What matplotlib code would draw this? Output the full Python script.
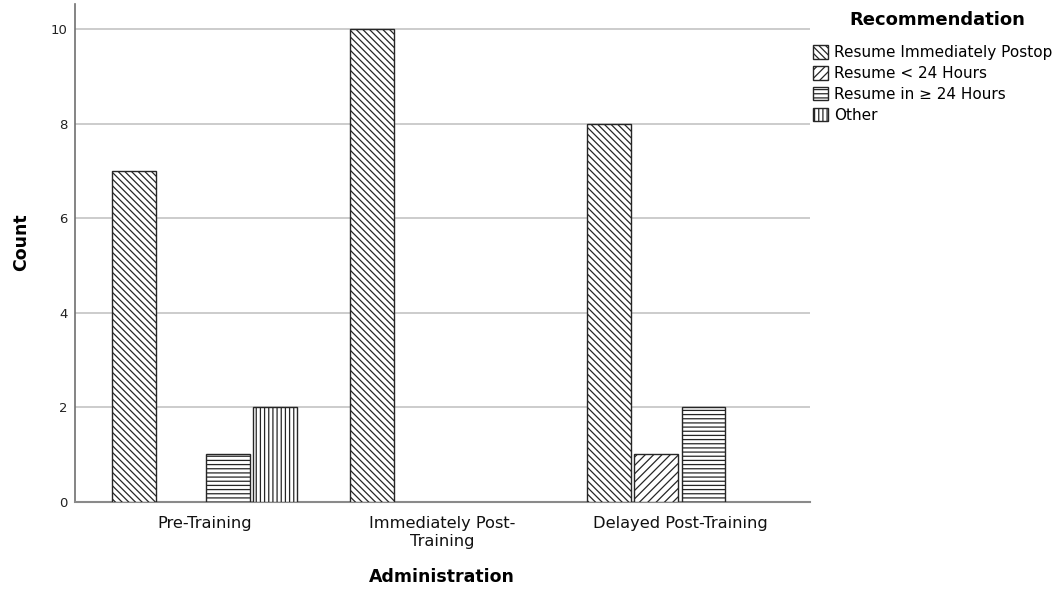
import numpy as np
import matplotlib
matplotlib.use("Agg")
import matplotlib.pyplot as plt
from matplotlib.patches import Patch

# data
administrations = ["Pre-Training", "Immediately Post-\nTraining", "Delayed Post-Training"]
recommendations = ["Resume Immediately Postop", "Resume < 24 Hours",
                   "Resume in \u2265 24 Hours", "Other"]
resume_immediately = [7, 10, 8]
resume_lt24 = [0, 0, 1]
resume_ge24 = [1, 0, 2]
other = [2, 0, 0]

counts = [resume_immediately, resume_lt24, resume_ge24, other]
hatches = ["\\\\\\\\\\", "////", "----", "||||"]

plt.rcParams["font.family"] = "DejaVu Sans"
plt.rcParams["hatch.linewidth"] = 0.9

fig = plt.figure(figsize=(10.62, 5.90), dpi=100)
ax = fig.add_axes([0.0702, 0.1497, 0.6925, 0.8435])

x = np.arange(len(administrations))
pitch = 0.198
width = 0.185
for i, (vals, h) in enumerate(zip(counts, hatches)):
    vals = np.array(vals, dtype=float)
    vals[vals == 0] = np.nan  # empty categories are not drawn
    ax.bar(x + (i - 1.5) * pitch, vals, width, facecolor="white",
           edgecolor="#262626", linewidth=1.0, hatch=h, zorder=3)

ax.set_xlim(-0.547, 2.547)
ax.set_ylim(0, 10.53)
ax.set_yticks([0, 2, 4, 6, 8, 10])
ax.set_xticks(x)
ax.set_xticklabels(administrations, fontsize=11.7, color="#111111", linespacing=1.3)
ax.tick_params(axis="x", length=0, pad=10)
ax.tick_params(axis="y", length=0, pad=5, labelsize=9.5, labelcolor="#222222")

ax.grid(axis="y", color="#c8c8c8", linewidth=1.3, zorder=0)
ax.set_axisbelow(True)
for s in ["top", "right"]:
    ax.spines[s].set_visible(False)
ax.spines["left"].set_color("#707070")
ax.spines["bottom"].set_color("#8a8a8a")
ax.spines["left"].set_linewidth(1.2)
ax.spines["bottom"].set_linewidth(1.5)

ax.set_xlabel("Administration", fontsize=12.5, fontweight="bold")
ax.xaxis.set_label_coords(0.5, -0.1325)
ax.set_ylabel("Count", fontsize=12.5, fontweight="bold")
ax.yaxis.set_label_coords(-0.06, 0.522)

fig.text(937 / 1062, 1 - 20 / 590, "Recommendation", fontsize=13,
         fontweight="bold", ha="center", va="center")
handles = [Patch(facecolor="white", edgecolor="#262626", hatch=h, linewidth=1.0)
           for h in hatches]
leg = fig.legend(handles, recommendations, loc="upper left",
                 bbox_to_anchor=(813 / 1062, 1 - 45 / 590), frameon=False,
                 borderpad=0, fontsize=11,
                 handlelength=1.0, handleheight=1.0, handletextpad=0.4,
                 labelspacing=0.38, borderaxespad=0)

fig.savefig("out.png", dpi=100)
